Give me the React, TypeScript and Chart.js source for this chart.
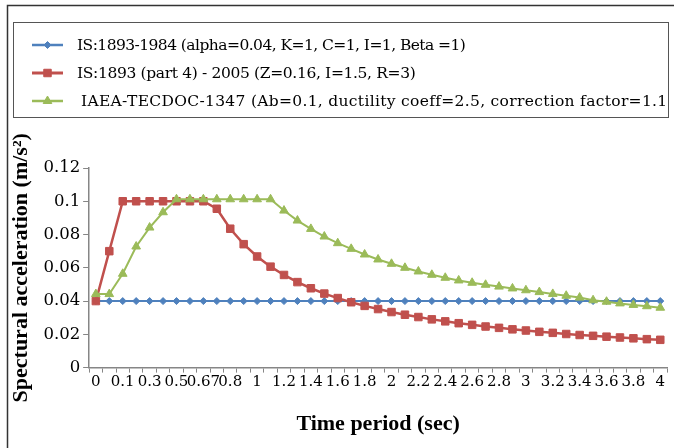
import React, { useEffect, useRef } from "react";
import { Chart, registerables } from "chart.js";
import { drawPoint } from "chart.js/helpers";

Chart.register(...registerables);

const categories = [
  "0", "0.05", "0.1", "0.2", "0.3", "0.4", "0.5", "0.6", "0.67", "0.7", "0.8", "0.9", "1", "1.1", "1.2",
  "1.3", "1.4", "1.5", "1.6", "1.7", "1.8", "1.9", "2", "2.1", "2.2", "2.3", "2.4", "2.5", "2.6", "2.7",
  "2.8", "2.9", "3", "3.1", "3.2", "3.3", "3.4", "3.5", "3.6", "3.7", "3.8", "3.9", "4",
];

const shownTickLabels = [
  "0", "0.1", "0.3", "0.5", "0.67", "0.8", "1", "1.2", "1.4", "1.6", "1.8", "2", "2.2", "2.4", "2.6",
  "2.8", "3", "3.2", "3.4", "3.6", "3.8", "4",
];

const is1984 = [
  0.04, 0.04, 0.04, 0.04, 0.04, 0.04, 0.04, 0.04, 0.04, 0.04, 0.04, 0.04, 0.04, 0.04, 0.04,
  0.04, 0.04, 0.04, 0.04, 0.04, 0.04, 0.04, 0.04, 0.04, 0.04, 0.04, 0.04, 0.04, 0.04, 0.04,
  0.04, 0.04, 0.04, 0.04, 0.04, 0.04, 0.04, 0.04, 0.04, 0.04, 0.04, 0.04, 0.04,
];

const is2005 = [
  0.04, 0.07, 0.1, 0.1, 0.1, 0.1, 0.1, 0.1, 0.1, 0.0955, 0.0835, 0.0742, 0.0668, 0.0607, 0.0557,
  0.0514, 0.0477, 0.0445, 0.0418, 0.0393, 0.0371, 0.0352, 0.0334, 0.0318, 0.0304, 0.029, 0.0278, 0.0267, 0.0257, 0.0247,
  0.0239, 0.023, 0.0223, 0.0215, 0.0209, 0.0202, 0.0196, 0.0191, 0.0186, 0.0181, 0.0176, 0.0171, 0.0167,
];

const iaea = [
  0.0442, 0.0442, 0.0564, 0.0728, 0.0842, 0.0934, 0.1012, 0.1012, 0.1012, 0.1012, 0.1012, 0.1012, 0.1012, 0.1012, 0.0944,
  0.0884, 0.0834, 0.0788, 0.0748, 0.0714, 0.068, 0.065, 0.0624, 0.06, 0.0578, 0.0558, 0.054, 0.0524, 0.051, 0.0498,
  0.0487, 0.0476, 0.0465, 0.0454, 0.0443, 0.0432, 0.0421, 0.0405, 0.0396, 0.0386, 0.0377, 0.0369, 0.036,
];

const seriesLabels = [
  "IS:1893-1984 (alpha=0.04, K=1, C=1, I=1, Beta =1)",
  "IS:1893 (part 4) - 2005 (Z=0.16, I=1.5, R=3)",
  "IAEA-TECDOC-1347 (Ab=0.1, ductility coeff=2.5, correction factor=1.1",
];

const BLUE = "#4F81BD";
const RED = "#C0504D";
const GREEN = "#9BBB59";
const SERIF = "'Liberation Serif', 'Times New Roman', serif";
const WIDE_SERIF = "'DejaVu Serif', serif";

// legend text layout: start x and end x of each row
const legendTextStart = [77, 77, 81];
const legendTextEnd = [466, 416, 667];

export default function App() {
  const ref = useRef<HTMLCanvasElement | null>(null);

  useEffect(() => {
    if (!ref.current) return;

    const frameAndLegend = {
      id: "frameAndLegend",
      afterDraw(chart: any) {
        const ctx = chart.ctx;
        ctx.save();
        // outer frame (left and top edges visible)
        ctx.strokeStyle = "#333";
        ctx.lineWidth = 1.5;
        ctx.beginPath();
        ctx.moveTo(7.5, 448);
        ctx.lineTo(7.5, 5.5);
        ctx.lineTo(674, 5.5);
        ctx.stroke();
        // legend box
        ctx.strokeStyle = "#555";
        ctx.lineWidth = 1;
        ctx.strokeRect(13.5, 22.5, 655, 95);
        // legend entries
        const rowTop = 45;
        const rowGap = 28;
        ctx.font = "15.5px " + WIDE_SERIF;
        ctx.textBaseline = "middle";
        ctx.textAlign = "left";
        chart.data.datasets.forEach((ds: any, i: number) => {
          const y = rowTop + i * rowGap;
          ctx.strokeStyle = ds.borderColor;
          ctx.fillStyle = ds.borderColor;
          ctx.lineWidth = ds.borderWidth + 0.5;
          ctx.beginPath();
          ctx.moveTo(32, y);
          ctx.lineTo(63, y);
          ctx.stroke();
          ctx.lineWidth = 1;
          drawPoint(
            ctx,
            { pointStyle: ds.pointStyle, radius: ds.pointRadius, borderWidth: 1, rotation: 0 } as any,
            47.5,
            y
          );
          ctx.fillStyle = "#000";
          const text: string = ds.label;
          if ("letterSpacing" in ctx) (ctx as any).letterSpacing = "0px";
          const w = ctx.measureText(text).width;
          const target = legendTextEnd[i] - legendTextStart[i];
          if ("letterSpacing" in ctx && text.length > 1) {
            (ctx as any).letterSpacing = ((target - w) / (text.length - 1)).toFixed(2) + "px";
          }
          ctx.fillText(text, legendTextStart[i], y + 0.5);
        });
        if ("letterSpacing" in ctx) (ctx as any).letterSpacing = "0px";
        ctx.restore();
      },
    };

    const chart = new Chart(ref.current, {
      type: "line",
      data: {
        labels: categories,
        datasets: [
          {
            label: seriesLabels[0],
            data: is1984,
            borderColor: BLUE,
            backgroundColor: BLUE,
            borderWidth: 2,
            pointStyle: "rectRot",
            pointRadius: 3.5,
            pointBorderWidth: 1,
            pointBorderColor: BLUE,
            pointBackgroundColor: BLUE,
            order: 2,
          },
          {
            label: seriesLabels[1],
            data: is2005,
            borderColor: RED,
            backgroundColor: RED,
            borderWidth: 2.5,
            pointStyle: "rect",
            pointRadius: 5.3,
            pointBorderWidth: 1,
            pointBorderColor: RED,
            pointBackgroundColor: RED,
            order: 1,
          },
          {
            label: seriesLabels[2],
            data: iaea,
            borderColor: GREEN,
            backgroundColor: GREEN,
            borderWidth: 2,
            pointStyle: "triangle",
            pointRadius: 5,
            pointBorderWidth: 1,
            pointBorderColor: GREEN,
            pointBackgroundColor: GREEN,
            order: 0,
          },
        ],
      },
      options: {
        animation: false,
        responsive: false,
        layout: { padding: { top: 168, left: 8, right: 7, bottom: 10 } },
        plugins: {
          tooltip: { enabled: false },
          legend: { display: false },
        },
        scales: {
          x: {
            type: "category",
            offset: true,
            grid: {
              offset: true,
              drawOnChartArea: false,
              drawTicks: true,
              tickLength: 5,
              color: "#868686",
            },
            border: { color: "#868686", width: 1.5 },
            ticks: {
              autoSkip: false,
              maxRotation: 0,
              minRotation: 0,
              padding: 1,
              color: "#000",
              font: { family: WIDE_SERIF, size: 15 },
              callback: function (_v: any, i: number) {
                const lab = categories[i];
                return shownTickLabels.includes(lab) ? lab : "";
              },
            },
            title: {
              display: true,
              text: "Time period (sec)",
              color: "#000",
              font: { family: SERIF, size: 22, weight: "bold" },
              padding: { top: 19, bottom: 0 },
            },
          },
          y: {
            min: 0,
            max: 0.12,
            grid: {
              drawOnChartArea: false,
              drawTicks: true,
              tickLength: 6,
              color: "#868686",
            },
            border: { color: "#868686", width: 1.5 },
            ticks: {
              stepSize: 0.02,
              padding: 3,
              color: "#000",
              font: { family: WIDE_SERIF, size: 16.5 },
              callback: (v: any) => String(+Number(v).toFixed(2)),
            },
            title: {
              display: true,
              text: "Spectural acceleration (m/s²)",
              color: "#000",
              font: { family: SERIF, size: 22, weight: "bold" },
              padding: { top: 0, bottom: 6 },
            },
          },
        },
      },
      plugins: [frameAndLegend],
    } as any);

    return () => chart.destroy();
  }, []);

  return (
    <div style={{ position: "absolute", left: 0, top: 0, width: 674, height: 448, background: "#fff" }}>
      <canvas ref={ref} width={674} height={448} style={{ display: "block" }} />
    </div>
  );
}
